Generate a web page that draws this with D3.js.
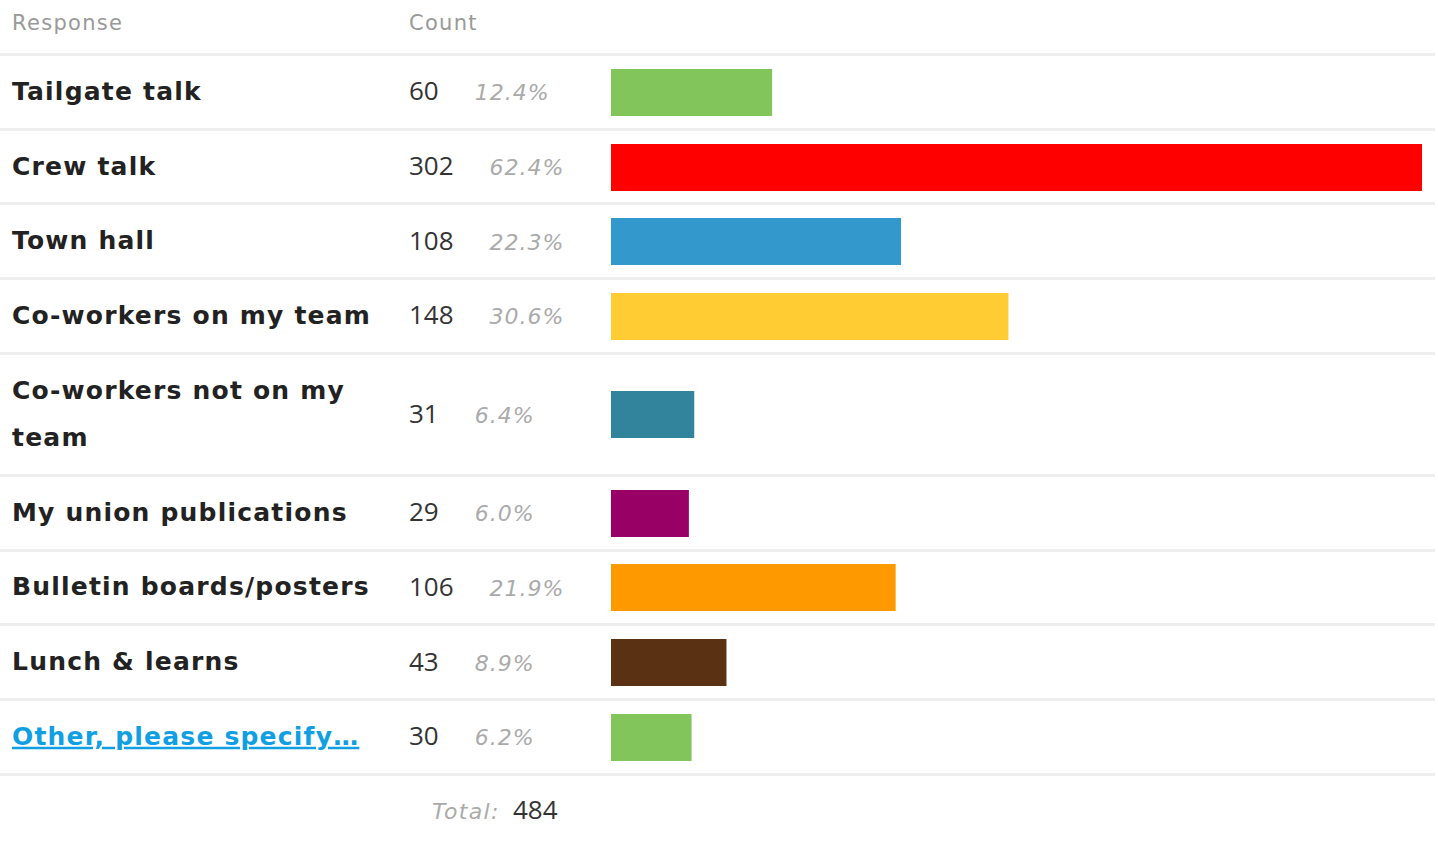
<!DOCTYPE html>
<html>
<head>
<meta charset="utf-8">
<script src="https://cdn.jsdelivr.net/npm/d3@7/dist/d3.min.js"></script>
<style>
  html, body { margin: 0; padding: 0; background: #fff; }
  svg { display: block; }
</style>
</head>
<body>
<svg id="chart" width="1438" height="846"></svg>
<script>
// ---- data ----
const responses = [
  "Tailgate talk",
  "Crew talk",
  "Town hall",
  "Co-workers on my team",
  "Co-workers not on my team",
  "My union publications",
  "Bulletin boards/posters",
  "Lunch & learns",
  "Other, please specify\u2026"
];
const counts = [60, 302, 108, 148, 31, 29, 106, 43, 30];
const percents = ["12.4%", "62.4%", "22.3%", "30.6%", "6.4%", "6.0%", "21.9%", "8.9%", "6.2%"];
const barColors = ["#82c65b", "#ff0000", "#3399cc", "#ffcc33", "#31849b", "#990066", "#ff9900", "#5b3114", "#82c65b"];
const linkRows = [false, false, false, false, false, false, false, false, true];
const headerLabels = ["Response", "Count"];
const totalLabel = "Total:";
const totalValue = 484;

// ---- layout ----
const svg = d3.select("#chart");
const labelX = 12, countX = 409, barX0 = 611, barX1 = 1422;
const lineColor = "#eeeeee", lineW = 3;
const rowPad = 71.7, lineStep = 47.5, barH = 47;
const labelMax = 385;

const x = d3.scaleLinear().domain([0, d3.max(counts)]).range([barX0, barX1]);

// header
svg.append("g").selectAll("text").data(headerLabels).join("text")
  .attr("x", (d, i) => i === 0 ? labelX : countX)
  .attr("y", 30)
  .attr("font-family", "DejaVu Sans")
  .attr("font-size", 21)
  .attr("letter-spacing", 1.3)
  .attr("fill", "#999")
  .text(d => d);

function hline(yy) {
  svg.append("rect").attr("x", 0).attr("y", Math.round(yy)).attr("width", 1435).attr("height", lineW).attr("fill", lineColor);
}

let y = 53;
hline(y);
y += lineW;

responses.forEach((resp, i) => {
  const t = svg.append("text")
    .attr("font-family", "DejaVu Sans")
    .attr("font-weight", "bold")
    .attr("font-size", 25)
    .attr("letter-spacing", 1.2)
    .attr("fill", linkRows[i] ? "#119fe3" : "#222")
    .attr("text-decoration", linkRows[i] ? "underline" : null);
  const words = resp.split(" ");
  const lines = [];
  let cur = [];
  const probe = t.append("tspan");
  words.forEach(w => {
    probe.text(cur.concat([w]).join(" "));
    if (probe.node().getComputedTextLength() > labelMax && cur.length) {
      lines.push(cur.join(" "));
      cur = [w];
    } else cur.push(w);
  });
  lines.push(cur.join(" "));
  probe.remove();

  const rowH = rowPad + (lines.length - 1) * (lineStep - 0.2);
  const cy = y + rowH / 2;
  const firstBase = cy + 8 - (lines.length - 1) * lineStep / 2;
  lines.forEach((ln, k) => {
    t.append("tspan").attr("x", labelX).attr("y", firstBase + k * lineStep).text(ln);
  });

  const c = svg.append("text")
    .attr("x", countX).attr("y", cy + 8.5)
    .attr("font-family", "Open Sans")
    .attr("font-size", 26)
    .attr("fill", "#333")
    .text(counts[i]);
  const cw = c.node().getComputedTextLength();

  svg.append("text")
    .attr("x", countX + cw + 36).attr("y", cy + 8.5)
    .attr("font-family", "DejaVu Sans")
    .attr("font-style", "italic")
    .attr("font-size", 22)
    .attr("letter-spacing", 1)
    .attr("fill", "#aaa")
    .text(percents[i]);

  svg.append("rect")
    .attr("x", x(0)).attr("y", Math.round(cy - barH / 2 + 0.5))
    .attr("width", x(counts[i]) - x(0)).attr("height", barH)
    .attr("fill", barColors[i]);

  y += rowH;
  hline(y);
  y += lineW;
});

// total
svg.append("text")
  .attr("x", 432).attr("y", 819)
  .attr("font-family", "DejaVu Sans")
  .attr("font-style", "italic")
  .attr("font-size", 22)
  .attr("letter-spacing", 1.3)
  .attr("fill", "#aaa")
  .text(totalLabel);
svg.append("text")
  .attr("x", 513).attr("y", 819)
  .attr("font-family", "Open Sans")
  .attr("font-size", 26)
  .attr("fill", "#333")
  .text(totalValue);
</script>
</body>
</html>
